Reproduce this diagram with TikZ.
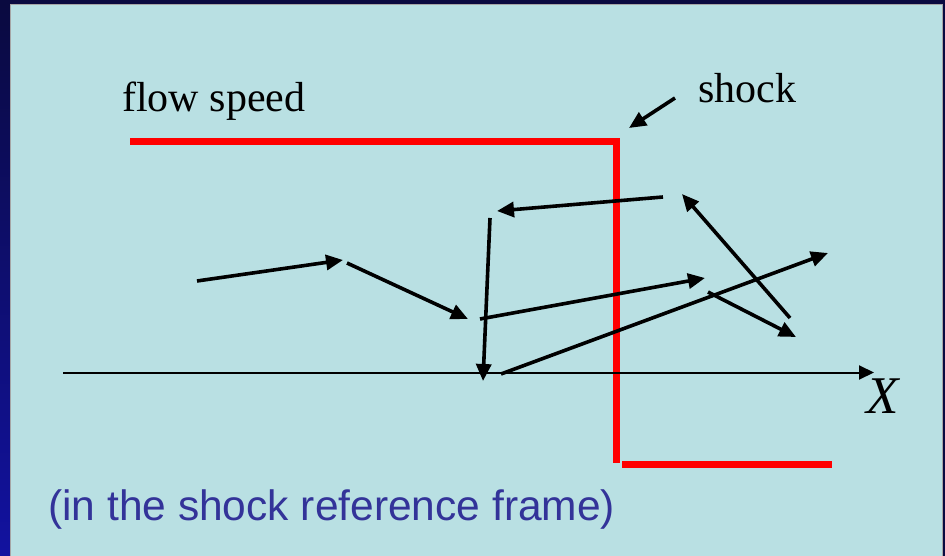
\documentclass[tikz,border=0pt]{standalone}
\usepackage{fontspec}
\setmainfont{Liberation Serif}
\setsansfont{Liberation Sans}
\usetikzlibrary{arrows.meta}
\definecolor{slidebg}{RGB}{185,224,227}
\definecolor{framenavy}{RGB}{10,10,64}
\definecolor{framebot}{RGB}{18,18,160}
\definecolor{notecol}{RGB}{51,51,153}
\begin{document}
\begin{tikzpicture}[
    x=1pt, y=-1pt,
    lbl/.style={font=\fontsize{42}{42}\selectfont, anchor=base west, inner sep=0pt},
    note/.style={font=\sffamily\fontsize{42.5}{42.5}\selectfont, text=notecol, anchor=base west, inner sep=0pt},
    hop/.style={line width=3.6pt, -{Triangle[length=17pt,width=15pt]}},
    speed/.style={red, line width=7pt}
]
    \useasboundingbox (0,0) rectangle (945,556);
    % slide frame
    \fill[framenavy] (0,0) rectangle (945,556);
    \shade[top color=framenavy, bottom color=framebot] (0,5) rectangle (10,556);
    \fill[slidebg, draw=gray!70, line width=0.8pt] (10.5,4.5) rectangle (942.5,560);

    % labels
    \node[lbl] (flow) at (122,112) {flow speed};
    \node[lbl] (shock) at (698,103) {shock};
    \node[font=\fontsize{53}{53}\selectfont\itshape, anchor=base west, inner sep=0pt] (xlbl) at (866,413) {X};
    \node[note] (frame) at (48,520) {(in the shock reference frame)};

    % flow speed profile
    \coordinate (up0) at (130,141.5);
    \coordinate (sh0) at (616,141.5);
    \coordinate (sh1) at (616,463);
    \coordinate (dn0) at (622,464);
    \coordinate (dn1) at (832,464);
    \draw[speed, line join=miter] (up0) -- (sh0) -- (sh1);
    \draw[speed] (dn0) -- (dn1);

    % x axis
    \coordinate (ax0) at (63,372.5);
    \coordinate (ax1) at (874,372.5);
    \draw[line width=2pt, -{Triangle[length=15pt,width=14pt]}] (ax0) -- (ax1);

    % pointer to the shock
    \coordinate (sp0) at (675,98);
    \coordinate (sp1) at (629,128);
    \draw[hop] (sp0) -- (sp1);

    % particle path
    \foreach \n/\xa/\ya/\xb/\yb in {a/197/281/343/260, b/347/263/468/319, c/480/319/705/278,
        d/708/292/796/337, e/790/318/682/194, f/663/197/497/211, g/490/218/483/381, h/501/374/828/253} {
        \coordinate (\n0) at (\xa,\ya);
        \coordinate (\n1) at (\xb,\yb);
        \draw[hop] (\n0) -- (\n1);
    }
\end{tikzpicture}
\end{document}
